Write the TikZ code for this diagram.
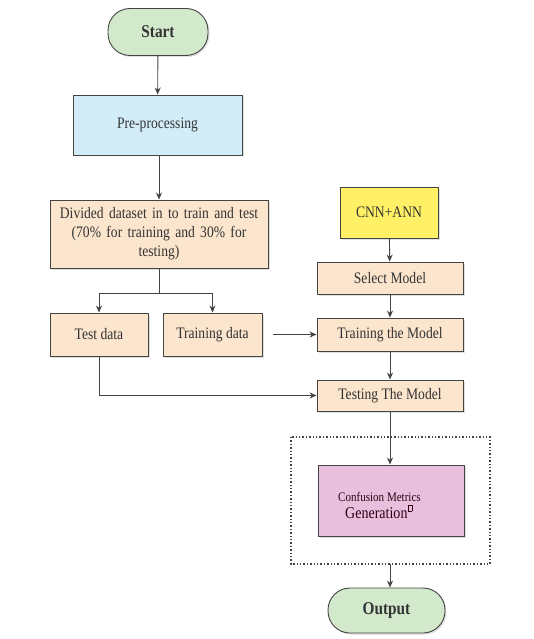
\documentclass[tikz,border=0pt]{standalone}
\usepackage{fontspec}
\setmainfont{Liberation Serif}[FakeStretch=0.85]
\usetikzlibrary{arrows.meta,shadows}
\definecolor{startgreen}{HTML}{D3E9CC}
\definecolor{preblue}{HTML}{D2ECF8}
\definecolor{beige}{HTML}{FCE5CD}
\definecolor{cnnyellow}{HTML}{FFF066}
\definecolor{pinkbox}{HTML}{E8C0DE}
\definecolor{linegray}{HTML}{444444}
\definecolor{txtgray}{HTML}{333333}
\tikzset{
  base/.style={draw=linegray, line width=0.9pt, align=center, inner sep=2pt, text=txtgray,
     drop shadow={shadow xshift=1.5pt, shadow yshift=-1.5pt, fill=black!25}},
  term/.style={base, rounded corners=22pt, fill=startgreen, font=\fontsize{18}{20}\selectfont\bfseries},
  proc/.style={base, fill=beige, font=\fontsize{16}{19}\selectfont},
  conn/.style={draw=linegray, line width=0.9pt, -{Stealth[length=7pt,width=6pt]}},
}
\begin{document}
\begin{tikzpicture}[x=1pt,y=-1pt]
\useasboundingbox (0,0) rectangle (533,639);
\node[term, minimum width=100pt, minimum height=47pt] (start) at (158,32) {Start};
\node[base, fill=preblue, minimum width=169pt, minimum height=60pt, font=\fontsize{16}{19}\selectfont] (pre) at (157.5,125) {Pre-processing};
\node[proc, minimum width=218pt, minimum height=68pt, text width=212pt] (div) at (159,234) {Divided dataset in to train and test\\(70\% for training and 30\% for\\testing)};
\node[proc, minimum width=98pt, minimum height=43pt] (test) at (99,334.5) {Test data};
\node[proc, minimum width=99pt, minimum height=43pt] (train) at (212.5,334.5) {Training data};
\node[base, fill=cnnyellow, minimum width=98pt, minimum height=51pt, font=\fontsize{16}{19}\selectfont] (cnn) at (389,212.5) {CNN+ANN};
\node[proc, minimum width=146pt, minimum height=32pt] (sel) at (390,278) {Select Model};
\node[proc, minimum width=146pt, minimum height=33pt] (trm) at (390,334.5) {Training the Model};
\node[proc, minimum width=146pt, minimum height=31pt] (tsm) at (390,395.5) {Testing The Model};
\draw[line width=1.4pt, dotted, draw=linegray] (291,437) rectangle (490,564);
\coordinate (dtop) at (390,437);
\coordinate (dbot) at (390,564);
\node[base, fill=pinkbox, minimum width=146pt, minimum height=71pt] (conf) at (391,500.5) {};
\node[align=left, anchor=west, inner sep=0pt, font=\fontsize{13}{16}\selectfont, text=black!75!purple] (conftxt) at (338,505) {Confusion Metrics\\[1pt]\hspace*{7pt}{\fontsize{16.5}{19}\selectfont Generation}\raisebox{7pt}{\setlength{\fboxrule}{0.4pt}\setlength{\fboxsep}{0pt}\fbox{\rule{0pt}{6pt}\hspace{4pt}}}};
\node[term, minimum width=117pt, minimum height=45pt] (out) at (386.5,610.5) {Output};
\coordinate (split) at (159,293);
\coordinate (trs) at (273,334.5);
\draw[conn] (start) -- (pre);
\draw[conn] (pre.south -| div.north) -- (div.north);
\draw[draw=linegray, line width=0.9pt] (div.south) -- (split);
\draw[conn] (split) -| (test.north);
\draw[conn] (split) -| (train.north);
\draw[conn] (cnn) -- (sel);
\draw[conn] (sel) -- (trm);
\draw[conn] (trm) -- (tsm);
\draw[conn] (trs) -- (trm.west);
\draw[conn] (test.south) |- (tsm.west);
\draw[conn] (tsm.south) -- (tsm.south |- conf.north);
\draw[conn] (dbot) -- (out.north -| dbot);
\end{tikzpicture}
\end{document}
